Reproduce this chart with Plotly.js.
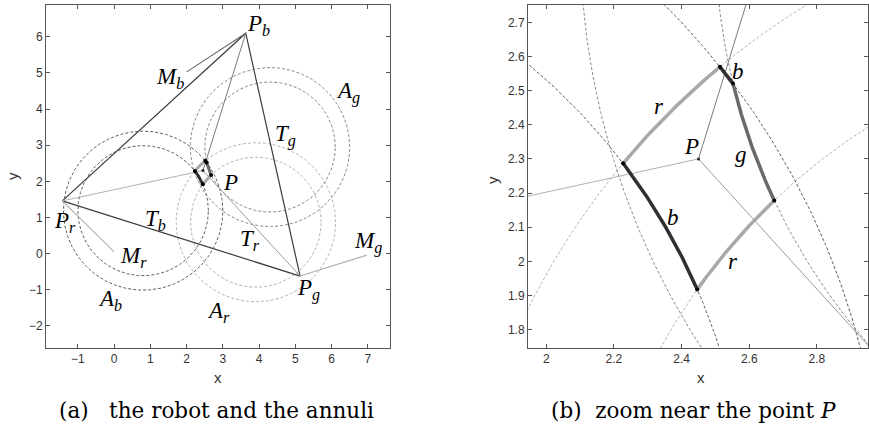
<!DOCTYPE html>
<html>
<head>
<meta charset="utf-8">
<script src="https://cdn.plot.ly/plotly-3.0.1.min.js"></script>
<style>html,body{margin:0;padding:0;background:#fff;}#chart{width:869px;height:430px;}</style>
</head>
<body>
<div id="chart"></div>
<script>
// ---------------- data ----------------
// beacons: r, b, g
const beaconNames = ['r', 'b', 'g'];
const beaconX = [-1.43, 3.63, 5.13];
const beaconY = [1.46, 6.10, -0.62];
// end points of the measured-direction segments M_r, M_b, M_g
const markEndX = [0.00, 2.00, 6.97];
const markEndY = [0.05, 5.03, -0.04];
// robot position P
const robotX = 2.45;
const robotY = 2.30;
// annuli A_r, A_b, A_g (center and inner / outer radius)
const annulusCx = [3.91, 0.80, 4.30];
const annulusCy = [0.87, 1.19, 2.95];
const annulusRin = [1.80, 1.80, 1.80];
const annulusRout = [2.20, 2.20, 2.20];

// labels
const leftLabelText = ['<i>P</i><sub><i>b</i></sub>', '<i>M</i><sub><i>b</i></sub>', '<i>A</i><sub><i>g</i></sub>',
  '<i>T</i><sub><i>g</i></sub>', '<i>P</i>', '<i>P</i><sub><i>r</i></sub>', '<i>T</i><sub><i>b</i></sub>',
  '<i>M</i><sub><i>r</i></sub>', '<i>T</i><sub><i>r</i></sub>', '<i>M</i><sub><i>g</i></sub>',
  '<i>P</i><sub><i>g</i></sub>', '<i>A</i><sub><i>b</i></sub>', '<i>A</i><sub><i>r</i></sub>'];
const leftLabelX = [3.97, 1.55, 6.46, 4.72, 3.20, -1.35, 1.13, 0.53, 3.75, 7.00, 5.35, -0.11, 2.87];
const leftLabelY = [6.32, 4.86, 4.47, 3.28, 1.98, 0.88, 0.93, -0.09, 0.38, 0.30, -1.00, -1.28, -1.60];
const rightLabelText = ['<i>b</i>', '<i>r</i>', '<i>P</i>', '<i>g</i>', '<i>b</i>', '<i>r</i>'];
const rightLabelX = [2.566, 2.332, 2.429, 2.576, 2.376, 2.551];
const rightLabelY = [2.556, 2.453, 2.336, 2.312, 2.127, 2.000];

const leftXTicks = [-1, 0, 1, 2, 3, 4, 5, 6, 7];
const leftYTicks = [-2, -1, 0, 1, 2, 3, 4, 5, 6];
const rightXTicks = [2, 2.2, 2.4, 2.6, 2.8];
const rightYTicks = [1.8, 1.9, 2, 2.1, 2.2, 2.3, 2.4, 2.5, 2.6, 2.7];

// ---------------- geometry helpers ----------------
function circlePts(cx, cy, r) {
  const xs = [], ys = [];
  for (let i = 0; i <= 720; i++) {
    const a = i / 720 * 2 * Math.PI;
    xs.push(cx + r * Math.cos(a)); ys.push(cy + r * Math.sin(a));
  }
  return [xs, ys];
}
function intersect(ax, ay, ar, bx, by, br, nx, ny) {
  const dx = bx - ax, dy = by - ay, d = Math.hypot(dx, dy);
  const a = (ar * ar - br * br + d * d) / (2 * d);
  const h = Math.sqrt(Math.max(0, ar * ar - a * a));
  const mx = ax + a * dx / d, my = ay + a * dy / d;
  const p1 = [mx + h * dy / d, my - h * dx / d], p2 = [mx - h * dy / d, my + h * dx / d];
  return Math.hypot(p1[0] - nx, p1[1] - ny) < Math.hypot(p2[0] - nx, p2[1] - ny) ? p1 : p2;
}
function arcPts(cx, cy, r, p, q) {
  const a1 = Math.atan2(p[1] - cy, p[0] - cx);
  let a2 = Math.atan2(q[1] - cy, q[0] - cx);
  let d = a2 - a1;
  while (d > Math.PI) d -= 2 * Math.PI;
  while (d < -Math.PI) d += 2 * Math.PI;
  const xs = [], ys = [];
  for (let i = 0; i <= 60; i++) {
    const a = a1 + d * i / 60;
    xs.push(cx + r * Math.cos(a)); ys.push(cy + r * Math.sin(a));
  }
  return [xs, ys];
}

const R = 0, B = 1, G = 2;
function circ(k, outer) { return [annulusCx[k], annulusCy[k], outer ? annulusRout[k] : annulusRin[k]]; }
function inter(c1, c2) { return intersect(c1[0], c1[1], c1[2], c2[0], c2[1], c2[2], robotX, robotY); }
const bIn = circ(B, false), bOut = circ(B, true), rIn = circ(R, false), rOut = circ(R, true), gIn = circ(G, false);
const V1 = inter(bIn, rOut), V2 = inter(rOut, bOut), V3 = inter(bOut, gIn), V4 = inter(gIn, rIn), V5 = inter(rIn, bIn);
const quadArcs = [
  [rOut, V1, V2, '#a9a9a9'],
  [bOut, V2, V3, '#303030'],
  [gIn, V3, V4, '#6a6a6a'],
  [rIn, V4, V5, '#a9a9a9'],
  [bIn, V5, V1, '#303030']
];

const circleColors = ['#b4b4b4', '#5e5e5e', '#8a8a8a'];

function scene(xa, ya, dash, quadW, dotSize) {
  const tr = [];
  for (let k = 0; k < 3; k++) {
    for (const r of [annulusRin[k], annulusRout[k]]) {
      const p = circlePts(annulusCx[k], annulusCy[k], r);
      tr.push({x: p[0], y: p[1], xaxis: xa, yaxis: ya, mode: 'lines', hoverinfo: 'skip',
        line: {color: circleColors[k], width: 1, dash: dash}});
    }
  }
  tr.push({x: [beaconX[0], beaconX[1], beaconX[2], beaconX[0]], y: [beaconY[0], beaconY[1], beaconY[2], beaconY[0]],
    xaxis: xa, yaxis: ya, mode: 'lines', line: {color: '#3c3c3c', width: 1.2}});
  const pColors = ['#b0b0b0', '#7a7a7a', '#9a9a9a'];
  for (let k = 0; k < 3; k++) {
    tr.push({x: [robotX, beaconX[k]], y: [robotY, beaconY[k]], xaxis: xa, yaxis: ya, mode: 'lines',
      line: {color: pColors[k], width: 1}});
  }
  const mColors = ['#b0b0b0', '#666666', '#b0b0b0'];
  for (let k = 0; k < 3; k++) {
    tr.push({x: [beaconX[k], markEndX[k]], y: [beaconY[k], markEndY[k]], xaxis: xa, yaxis: ya, mode: 'lines',
      line: {color: mColors[k], width: 1.1}});
  }
  for (const q of quadArcs) {
    const p = arcPts(q[0][0], q[0][1], q[0][2], q[1], q[2]);
    tr.push({x: p[0], y: p[1], xaxis: xa, yaxis: ya, mode: 'lines', line: {color: q[3], width: quadW}});
  }
  tr.push({x: [V1[0], V2[0], V3[0], V4[0], V5[0]], y: [V1[1], V2[1], V3[1], V4[1], V5[1]], xaxis: xa, yaxis: ya,
    mode: 'markers', marker: {color: '#000', size: dotSize}});
  tr.push({x: [robotX], y: [robotY], xaxis: xa, yaxis: ya, mode: 'markers', marker: {color: '#222', size: dotSize - 1}});
  return tr;
}

const traces = scene('x', 'y', '3px,2px', 3, 4).concat(scene('x2', 'y2', '3px,2px', 3.5, 4));

const W = 869, H = 430;
const axisBase = {
  showline: true, mirror: 'ticks', linecolor: '#555', linewidth: 1, ticks: 'inside', ticklen: 4,
  tickcolor: '#555', showgrid: false, zeroline: false, fixedrange: true,
  tickfont: {family: 'Liberation Sans, Arial, sans-serif', size: 12, color: '#333'}
};
const labelFont = {family: 'Liberation Serif, Times New Roman, serif', size: 23, color: '#000'};

const ann = [];
for (let i = 0; i < leftLabelText.length; i++) {
  ann.push({x: leftLabelX[i], y: leftLabelY[i], xref: 'x', yref: 'y', text: leftLabelText[i], showarrow: false,
    xanchor: 'center', yanchor: 'middle', font: labelFont});
}
for (let i = 0; i < rightLabelText.length; i++) {
  ann.push({x: rightLabelX[i], y: rightLabelY[i], xref: 'x2', yref: 'y2', text: rightLabelText[i], showarrow: false,
    xanchor: 'center', yanchor: 'middle', font: labelFont});
}
const axisTitleFont = {family: 'Liberation Sans, Arial, sans-serif', size: 15, color: '#333'};
function paperText(px, py, text, font, angle) {
  const a = {x: px / W, y: 1 - py / H, xref: 'paper', yref: 'paper', text: text, showarrow: false,
    xanchor: 'center', yanchor: 'middle', font: font};
  if (angle) a.textangle = angle;
  ann.push(a);
}
paperText(218, 377, 'x', axisTitleFont);
paperText(12, 176, 'y', axisTitleFont, -90);
paperText(701, 377, 'x', axisTitleFont);
paperText(492, 180, 'y', axisTitleFont, -90);
const capFont = {family: 'DejaVu Serif, serif', size: 21.5, color: '#000'};
paperText(216, 410, '(a)\u00a0\u00a0\u00a0the robot and the annuli', capFont);
paperText(693, 410, '(b)\u00a0\u00a0zoom near the point <i>P</i>', capFont);

const layout = {
  width: W, height: H, margin: {l: 0, r: 0, t: 0, b: 0},
  paper_bgcolor: '#fff', plot_bgcolor: '#fff', showlegend: false, hovermode: false,
  xaxis: Object.assign({}, axisBase, {domain: [46 / W, 390 / W], range: [-1.88, 7.61], tickvals: leftXTicks, anchor: 'y'}),
  yaxis: Object.assign({}, axisBase, {domain: [1 - 348 / H, 1 - 5 / H], range: [-2.61, 6.88], tickvals: leftYTicks, anchor: 'x'}),
  xaxis2: Object.assign({}, axisBase, {domain: [528 / W, 868 / W], range: [1.946, 2.951], tickvals: rightXTicks, anchor: 'y2'}),
  yaxis2: Object.assign({}, axisBase, {domain: [1 - 348 / H, 1 - 5 / H], range: [1.746, 2.751], tickvals: rightYTicks, anchor: 'x2'}),
  annotations: ann
};

Plotly.newPlot('chart', traces, layout, {staticPlot: true, displayModeBar: false});
</script>
</body>
</html>
